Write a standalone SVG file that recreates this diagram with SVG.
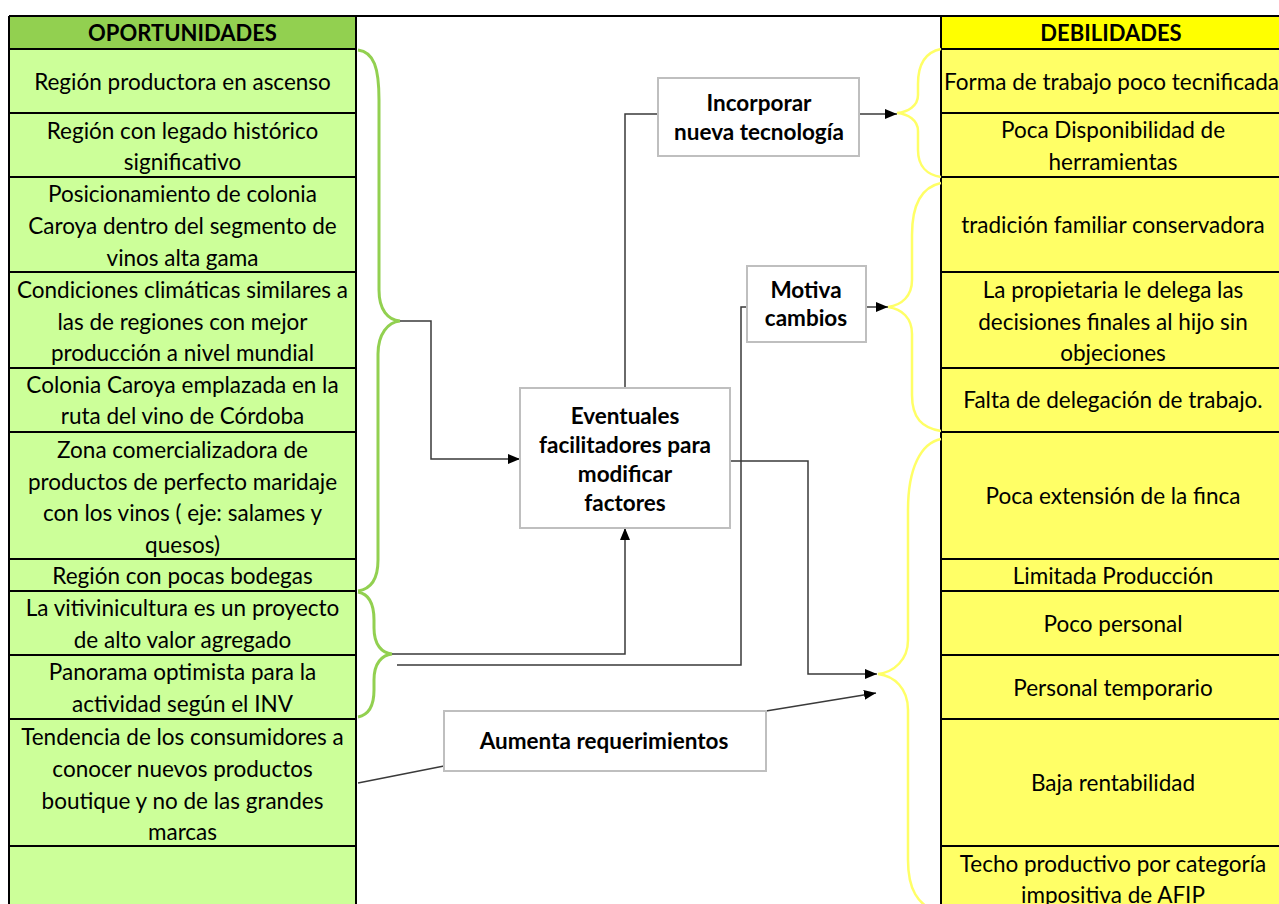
<svg xmlns="http://www.w3.org/2000/svg" width="1279" height="904" viewBox="0 0 1279 904">
  <style>
    .cell { font-family: Lato, "Open Sans", sans-serif; font-size: 22.5px; fill: #000; text-anchor: middle; }
    .hdr { font-family: Lato, "Open Sans", sans-serif; font-size: 22px; font-weight: bold; fill: #000; text-anchor: middle; }
    .box rect { fill: #fff; stroke: #BFBFBF; stroke-width: 2; }
    .box text { font-family: Lato, "Open Sans", sans-serif; font-size: 22.5px; font-weight: bold; fill: #000; text-anchor: middle; }
    .grid { stroke: #000; stroke-width: 2; fill: none; }
    .brace-g { fill: none; stroke: #92D050; stroke-width: 3; }
    .brace-y { fill: none; stroke: #FFFF66; stroke-width: 2.5; }
    .conn { fill: none; stroke: #3a3a3a; stroke-width: 1.5; }
  </style>
  <defs>
    <marker id="arrow" markerUnits="userSpaceOnUse" markerWidth="14" markerHeight="12" refX="12" refY="5" orient="auto">
      <path d="M0,0 L12,5 L0,10 z" fill="#000"/>
    </marker>
    <clipPath id="rightCol"><rect x="941" y="16" width="338" height="888"/></clipPath>
  </defs>

  <rect width="1279" height="904" fill="#fff"/>

  <!-- Oportunidades column -->
  <g id="oportunidades">
    <rect x="9" y="16" width="347" height="33" fill="#92D050"/>
    <rect x="9" y="49" width="347" height="855" fill="#CCFF99"/>
    <path class="grid" d="M9,49 H356 M9,113 H356 M9,177 H356 M9,272 H356 M9,368 H356 M9,432 H356 M9,559 H356 M9,591 H356 M9,655 H356 M9,719 H356 M9,846 H356 M9,16 V904 M356,16 V904"/>
    <text class="hdr" x="182.5" y="40.5">OPORTUNIDADES</text>
    <text class="cell" x="182.5" y="89.5">Región productora en ascenso</text>
    <text class="cell" x="182.5" y="138.5">Región con legado histórico</text>
    <text class="cell" x="182.5" y="169.5">significativo</text>
    <text class="cell" x="182.5" y="201.5">Posicionamiento de colonia</text>
    <text class="cell" x="182.5" y="233.5">Caroya dentro del segmento de</text>
    <text class="cell" x="182.5" y="265.5">vinos alta gama</text>
    <text class="cell" x="182.5" y="297.5">Condiciones climáticas similares a</text>
    <text class="cell" x="182.5" y="329.5">las de regiones con mejor</text>
    <text class="cell" x="182.5" y="360.5">producción a nivel mundial</text>
    <text class="cell" x="182.5" y="392.5">Colonia Caroya emplazada en la</text>
    <text class="cell" x="182.5" y="423.5">ruta del vino de Córdoba</text>
    <text class="cell" x="182.5" y="457.5">Zona comercializadora de</text>
    <text class="cell" x="182.5" y="489.5">productos de perfecto maridaje</text>
    <text class="cell" x="182.5" y="520.5">con los vinos ( eje: salames y</text>
    <text class="cell" x="182.5" y="552.5">quesos)</text>
    <text class="cell" x="182.5" y="583.5">Región con pocas bodegas</text>
    <text class="cell" x="182.5" y="615.5">La vitivinicultura es un proyecto</text>
    <text class="cell" x="182.5" y="647.5">de alto valor agregado</text>
    <text class="cell" x="182.5" y="679.5">Panorama optimista para la</text>
    <text class="cell" x="182.5" y="711.5">actividad según el INV</text>
    <text class="cell" x="182.5" y="744.5">Tendencia de los consumidores a</text>
    <text class="cell" x="182.5" y="776.5">conocer nuevos productos</text>
    <text class="cell" x="182.5" y="808.5">boutique y no de las grandes</text>
    <text class="cell" x="182.5" y="839.5">marcas</text>
  </g>

  <!-- Debilidades column -->
  <g id="debilidades">
    <rect x="941" y="16" width="345" height="33" fill="#FFFF00"/>
    <rect x="941" y="49" width="345" height="855" fill="#FFFF66"/>
    <path class="grid" d="M941,49 H1286 M941,113 H1286 M941,177 H1286 M941,272 H1286 M941,368 H1286 M941,432 H1286 M941,559 H1286 M941,591 H1286 M941,655 H1286 M941,719 H1286 M941,846 H1286 M941,16 V904"/>
    <text class="hdr" x="1111" y="40.5">DEBILIDADES</text>
    <g clip-path="url(#rightCol)">
      <text class="cell" x="944" y="89.5" style="text-anchor:start">Forma de trabajo poco tecnificada</text>
    </g>
    <text class="cell" x="1113" y="137.5">Poca Disponibilidad de</text>
    <text class="cell" x="1113" y="169.5">herramientas</text>
    <text class="cell" x="1113" y="232.5">tradición familiar conservadora</text>
    <text class="cell" x="1113" y="297.5">La propietaria le delega las</text>
    <text class="cell" x="1113" y="329.5">decisiones finales al hijo sin</text>
    <text class="cell" x="1113" y="360.5">objeciones</text>
    <text class="cell" x="1113" y="407.5">Falta de delegación de trabajo.</text>
    <text class="cell" x="1113" y="503.5">Poca extensión de la finca</text>
    <text class="cell" x="1113" y="583.5">Limitada Producción</text>
    <text class="cell" x="1113" y="631.5">Poco personal</text>
    <text class="cell" x="1113" y="695.5">Personal temporario</text>
    <text class="cell" x="1113" y="790.5">Baja rentabilidad</text>
    <text class="cell" x="1113" y="871.5">Techo productivo por categoría</text>
    <text class="cell" x="1113" y="902.5">impositiva de AFIP</text>
  </g>

  <!-- top rule across the sheet -->
  <path class="grid" d="M9,16 H1279"/>

  <!-- Braces -->
  <g id="braces">
    <path class="brace-g" d="M358,50 C374,52 379,68 379,100 L379,290 C379,310 388,320 400,321 C388,322 378,334 378,354 L378,560 C378,580 371,589 358,591"/>
    <path class="brace-g" d="M358,592 C369,594 374,604 374,620 L374,628 C374,645 382,653 392,654 C382,655 374,663 374,680 L374,690 C374,706 368,715 358,717"/>
    <path class="brace-y" d="M941,49 C926,52 918,64 918,84 L918,95 C918,106 908,112 897,113 C908,114 918,120 918,131 L918,150 C918,166 927,175 941,177"/>
    <path class="brace-y" d="M941,183 C922,187 912,205 912,235 L912,280 C912,296 902,305 888,307 C902,309 912,318 912,334 L912,395 C912,418 922,428 941,431"/>
    <path class="brace-y" d="M941,439 C921,443 908,468 908,510 L908,640 C908,660 894,672 878,674 C894,676 908,688 908,710 L908,860 C908,890 918,904 936,912"/>
  </g>

  <!-- Connectors -->
  <g id="connectors">
    <path class="conn" d="M400,321 H431 V459 H520" marker-end="url(#arrow)"/>
    <path class="conn" d="M392,654 H625 V528" marker-end="url(#arrow)"/>
    <path class="conn" d="M397,665 H741 V307 H747"/>
    <path class="conn" d="M625,388 V114 H658"/>
    <path class="conn" d="M859,114 H897" marker-end="url(#arrow)"/>
    <path class="conn" d="M866,307 H888" marker-end="url(#arrow)"/>
    <path class="conn" d="M730,461 H808 V674 H877" marker-end="url(#arrow)"/>
    <path class="conn" d="M358,783 L444,766"/>
    <path class="conn" d="M766,711 L876,693" marker-end="url(#arrow)"/>
  </g>

  <!-- Nodes -->
  <g id="incorporar" class="box">
    <rect x="658" y="78" width="201" height="78"/>
    <text x="759" y="111">Incorporar</text>
    <text x="759" y="140">nueva tecnología</text>
  </g>
  <g id="motiva" class="box">
    <rect x="747" y="266" width="119" height="76"/>
    <text x="806" y="298">Motiva</text>
    <text x="806" y="326">cambios</text>
  </g>
  <g id="eventuales" class="box">
    <rect x="520" y="388" width="210" height="140"/>
    <text x="625" y="424">Eventuales</text>
    <text x="625" y="453">facilitadores para</text>
    <text x="625" y="482">modificar</text>
    <text x="625" y="511">factores</text>
  </g>
  <g id="aumenta" class="box">
    <rect x="444" y="711" width="322" height="60"/>
    <text x="604" y="749">Aumenta requerimientos</text>
  </g>
</svg>
